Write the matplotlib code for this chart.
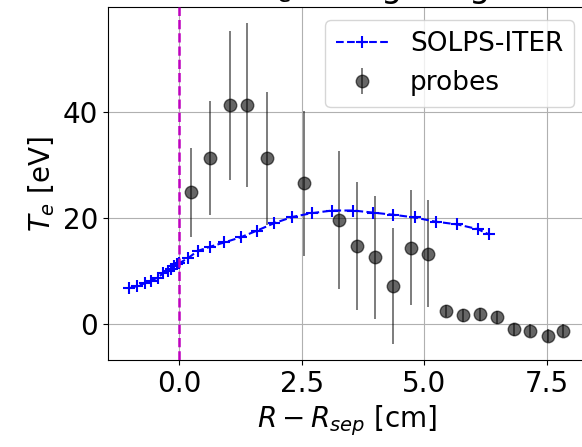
import matplotlib
matplotlib.use("Agg")
import matplotlib.pyplot as plt
import numpy as np

# SOLPS-ITER profile
solps_r = [-1.02, -0.86, -0.71, -0.58, -0.44, -0.33, -0.24, -0.17, -0.11, -0.05, 0.0,
           0.17, 0.375, 0.63, 0.92, 1.26, 1.58, 1.93, 2.31, 2.70, 3.12, 3.55, 3.96,
           4.37, 4.80, 5.23, 5.67, 6.09, 6.32]
solps_te = [6.8, 7.2, 7.7, 8.2, 8.8, 9.6, 10.1, 10.5, 11.0, 11.3, 11.5,
            12.4, 13.8, 14.6, 15.4, 16.4, 17.6, 19.0, 20.2, 20.9, 21.4, 21.4, 21.0,
            20.6, 20.1, 19.3, 18.8, 17.9, 16.9]

# probe measurements
probe_r = [0.24, 0.635, 1.03, 1.39, 1.78, 2.54, 3.26, 3.63, 4.0, 4.37, 4.73, 5.08,
           5.44, 5.78, 6.14, 6.48, 6.84, 7.16, 7.53, 7.84]
probe_te = [24.8, 31.2, 41.2, 41.2, 31.2, 26.5, 19.6, 14.7, 12.6, 7.2, 14.4, 13.3,
            2.5, 1.7, 1.9, 1.3, -0.9, -1.2, -2.1, -1.2]
probe_err = [8.4, 10.7, 14.0, 15.4, 12.5, 13.7, 13.0, 12.0, 11.6, 10.9, 10.8, 10.0,
             1.2, 1.2, 1.2, 1.2, 1.2, 1.2, 1.2, 1.2]

W, H = 582, 447
fig = plt.figure(figsize=(W / 100, H / 100), dpi=100)
ax = fig.add_axes([108 / W, 1 - 360 / H, 479 / W, 352.7 / H])

fs = 20
ax.plot(solps_r, solps_te, 'b+--', ms=8, mew=1.5, lw=1.5, label='SOLPS-ITER', zorder=3)
ax.errorbar(probe_r, probe_te, yerr=probe_err, fmt='o', color='k', alpha=0.6,
            ms=9, elinewidth=1.2, label='probes', zorder=2)
ax.axvline(0, color='m', ls='--', lw=1.8, zorder=4)

ax.set_xlim(-1.455, 8.32)
ax.set_ylim(-6.7, 59.6)
ax.set_xticks([0, 2.5, 5.0, 7.5])
ax.set_yticks([0, 20, 40])
ax.grid(True)
ax.tick_params(labelsize=fs)
ax.set_xlabel(r'$R - R_{sep}$ [cm]', fontsize=fs)
ax.set_ylabel(r'$T_e$ [eV]', fontsize=fs)
ax.legend(loc='upper right', fontsize=fs - 1)

fig.text(510 / W, 1 + 3 / H, r'$T_e$ fitting range', fontsize=24,
         ha='right', va='baseline')

fig.savefig('out.png', dpi=100)
